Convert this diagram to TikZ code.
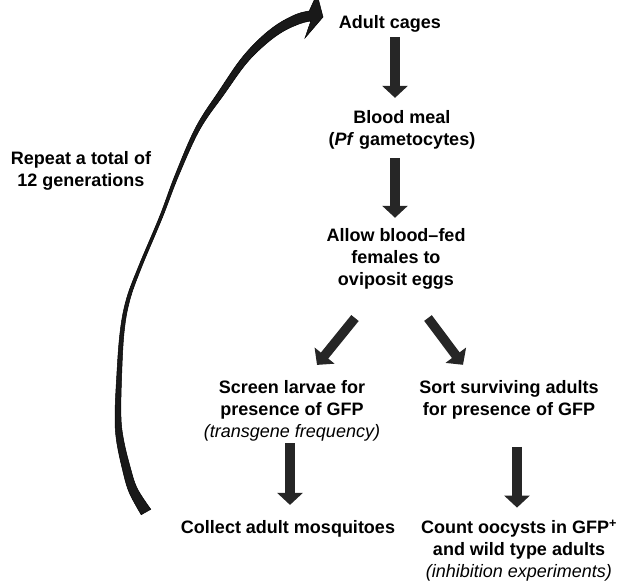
\documentclass[tikz,border=0pt]{standalone}
\usepackage{fontspec}
\setmainfont{Liberation Sans}
\usetikzlibrary{arrows.meta,calc}
\begin{document}
\begin{tikzpicture}[x=1pt,y=-1pt,
  lbl/.style={font=\fontsize{18}{22}\selectfont\bfseries, align=center, inner sep=0pt},
  blockarr/.style={line width=9.5pt, draw=black!85, -{Triangle[length=12pt,width=25pt]}},
  loopfill/.style={fill=black!90, draw=black, line width=0.5pt}
]
\useasboundingbox (0,0) rectangle (624,583);

\node[lbl] (cages) at (390,23.5) {Adult cages};
\node[lbl] (blood) at (402,129.5) {Blood meal\\(\textit{Pf} gametocytes)};
\node[lbl] (allow) at (396,258.4) {Allow blood--fed\\females to\\oviposit eggs};
\node[lbl] (screen) at (292,410.5) {Screen larvae for\\presence of GFP\\{\mdseries\itshape (transgene frequency)}};
\node[lbl] (sort) at (509,399.4) {Sort surviving adults\\for presence of GFP};
\node[lbl] (collect) at (288,528.5) {Collect adult mosquitoes};
\node[lbl] (count) at (519,550.5) {Count oocysts in GFP\textsuperscript{+}\\and wild type adults\\{\mdseries\itshape (inhibition experiments)}};
\node[lbl] (repeat) at (81,171) {Repeat a total of\\12 generations};

\draw[blockarr] ($(cages.south)+(5,5)$) -- ($(blood.north)+(-7,-12)$);
\draw[blockarr] ($(blood.south)+(-7,9)$) -- ($(allow.north)+(-1,-10)$);
\draw[blockarr] ($(allow.south)+(-41,29)$) -- ($(screen.north)+(25,-15)$);
\draw[blockarr] ($(allow.south)+(32,29)$) -- ($(sort.north)+(-46,-15)$);
\draw[blockarr] ($(screen.south)+(-2,2)$) -- ($(collect.north)+(2,-15)$);
\draw[blockarr] ($(sort.south)+(8,28)$) -- ($(count.north)+(-2,-12)$);

\fill[loopfill]
 plot[smooth, tension=0.6] coordinates {(141.2,514.7) (128.9,491.8) (122.1,468) (116.5,440.6) (115,417) (116.5,380) (120,332.8) (126.3,299.5) (138.6,266.4) (159.6,216.5) (175.4,174.3) (196,126.9) (219.5,90.3) (240.3,59.8) (259.3,39) (277.6,24.2) (296.3,14.3) (309.2,11)}
 -- (317,-6) -- (323,17) -- (305,38) -- (310.8,21)
 -- plot[smooth, tension=0.6] coordinates {(310.8,21) (299.8,23.7) (282.4,31.8) (264.7,45) (245.7,64.2) (224.5,93.7) (200,129.1) (178.6,175.7) (162.4,217.5) (141.4,267.6) (129.7,300.5) (124,333.2) (121.5,380) (121,417) (123.5,439.4) (129.9,466) (137.1,488.2) (150.8,509.3)} -- cycle;
\end{tikzpicture}
\end{document}
